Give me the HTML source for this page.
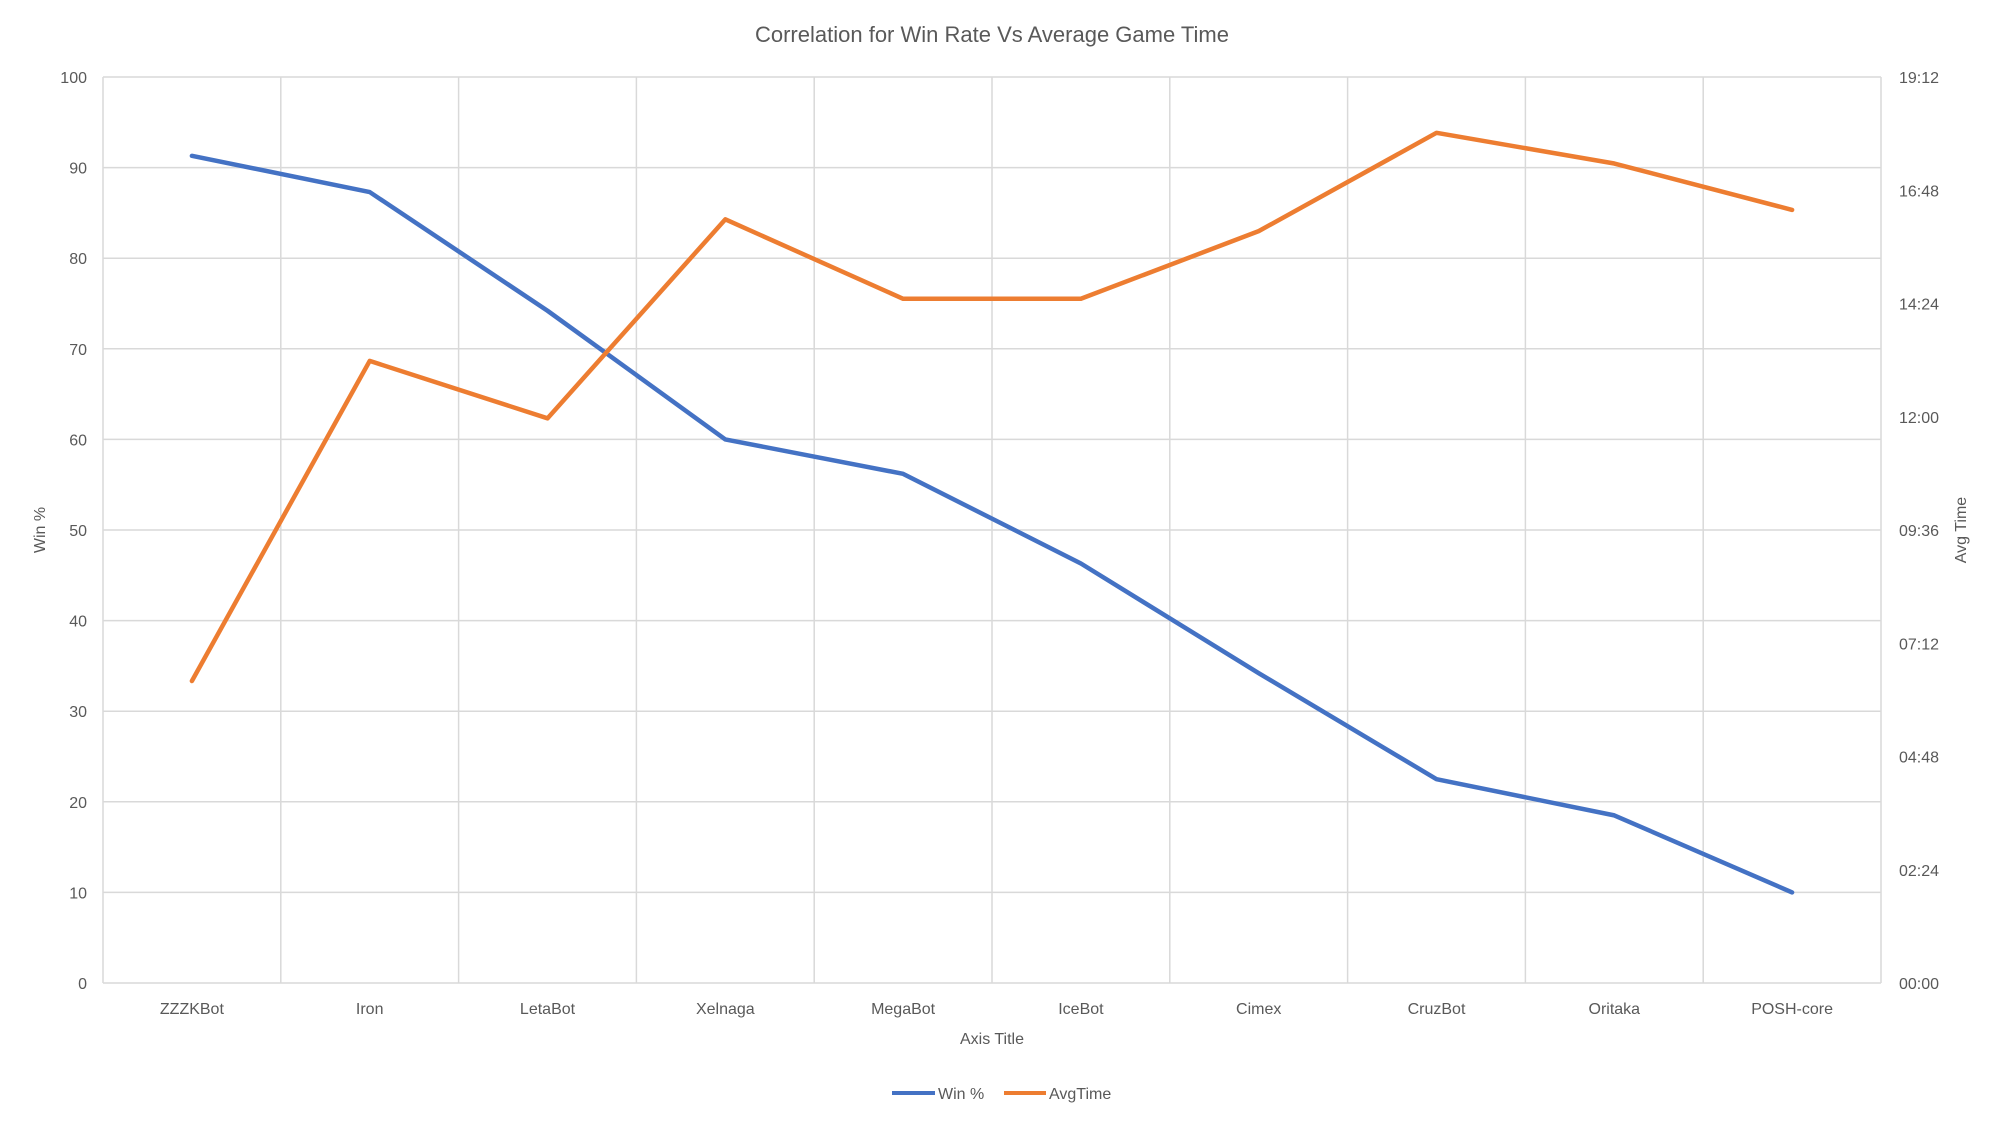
<!DOCTYPE html>
<html><head><meta charset="utf-8"><style>
body{margin:0;background:#fff;}
svg{display:block;font-family:"Liberation Sans",sans-serif;}
</style></head><body>
<svg id="chart" width="2000" height="1125" viewBox="0 0 2000 1125" xmlns="http://www.w3.org/2000/svg">
<text x="992" y="42" text-anchor="middle" font-size="22" fill="#595959">Correlation for Win Rate Vs Average Game Time</text>
<g id="grid"></g><g id="axes"></g><g id="series"></g>
<text x="992" y="1044" text-anchor="middle" font-size="16" fill="#595959">Axis Title</text>
<text transform="translate(45,530) rotate(-90)" text-anchor="middle" font-size="16" fill="#595959">Win %</text>
<text transform="translate(1966,530) rotate(-90)" text-anchor="middle" font-size="16" fill="#595959">Avg Time</text>
<g>
<line x1="892" y1="1093" x2="935" y2="1093" stroke="#4472c4" stroke-width="4"/>
<text x="938" y="1099" font-size="16" fill="#595959">Win %</text>
<line x1="1004" y1="1093" x2="1046" y2="1093" stroke="#ed7d31" stroke-width="4"/>
<text x="1049" y="1099" font-size="16" fill="#595959">AvgTime</text>
</g>
</svg>
<script>
const categories=["ZZZKBot","Iron","LetaBot","Xelnaga","MegaBot","IceBot","Cimex","CruzBot","Oritaka","POSH-core"];
const winPct=[91.3,87.3,74.2,60,56.2,46.3,34.2,22.5,18.5,10];
const avgTime=["06:24","13:11","11:58","16:11","14:30","14:30","15:56","18:01","17:22","16:23"];
const leftTicks=[0,10,20,30,40,50,60,70,80,90,100];
const rightTicks=["00:00","02:24","04:48","07:12","09:36","12:00","14:24","16:48","19:12"];
const NS="http://www.w3.org/2000/svg";
const L=103,R=1881,T=77,B=983;
const step=(R-L)/categories.length;
const xc=i=>L+step*(i+0.5);
const yL=v=>B-(v/100)*(B-T);
const toSec=s=>{const p=s.split(":");return (+p[0])*60+(+p[1]);};
const yR=s=>B-(toSec(s)/1152)*(B-T);
function mk(tag,attrs,parent){const e=document.createElementNS(NS,tag);for(const k in attrs)e.setAttribute(k,attrs[k]);parent.appendChild(e);return e;}
const grid=document.getElementById('grid'),axes=document.getElementById('axes'),series=document.getElementById('series');
leftTicks.forEach(v=>{
 const l=mk('line',{x1:L,x2:R,y1:yL(v),y2:yL(v),stroke:'#d9d9d9','stroke-width':1.5},grid);
 
 
 const t=mk('text',{x:87,y:yL(v)+6,'text-anchor':'end','font-size':16,fill:'#595959'},axes);
 t.textContent=v;
 
 
});
for(let i=0;i<=categories.length;i++){
 const x=L+step*i;
 const l=mk('line',{x1:x,x2:x,y1:T,y2:B,stroke:'#d9d9d9','stroke-width':1.5},grid);
 
 
}
rightTicks.forEach(s=>{
 const t=mk('text',{x:1899,y:yR(s)+6,'font-size':16,fill:'#595959'},axes);
 t.textContent=s;
 
 
});
categories.forEach((c,i)=>{
 const t=mk('text',{x:xc(i),y:1014,'text-anchor':'middle','font-size':16,fill:'#595959'},axes);
 t.textContent=c;
 
 
});
const p1=mk('polyline',{points:winPct.map((v,i)=>xc(i)+','+yL(v)).join(' '),fill:'none',stroke:'#4472c4','stroke-width':4.5,'stroke-linejoin':'round','stroke-linecap':'round'},series);


const p2=mk('polyline',{points:avgTime.map((v,i)=>xc(i)+','+yR(v)).join(' '),fill:'none',stroke:'#ed7d31','stroke-width':4.5,'stroke-linejoin':'round','stroke-linecap':'round'},series);


</script>
</body></html>
